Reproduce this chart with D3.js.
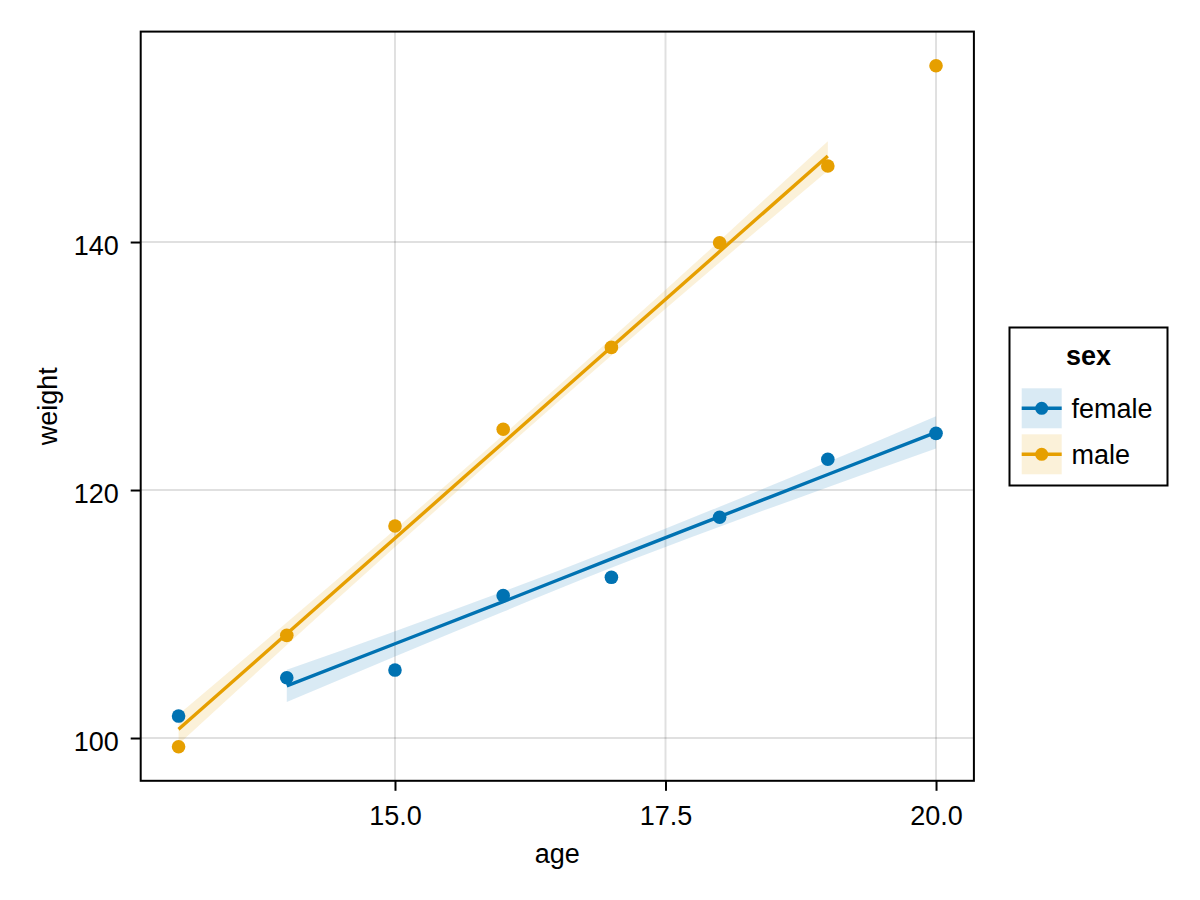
<!DOCTYPE html>
<html>
<head>
<meta charset="utf-8">
<script src="https://cdn.jsdelivr.net/npm/d3@7"></script>
<style>
  html, body { margin: 0; padding: 0; background: #fff; }
  svg { display: block; font-family: "Liberation Sans", Arial, sans-serif; }
</style>
</head>
<body>
<svg id="chart" width="1200" height="900"></svg>
<script>
// ---- data ----
const ages = [13, 14, 15, 16, 17, 18, 19, 20];
const femaleWeight = [101.77, 104.86, 105.48, 111.48, 112.96, 117.8, 122.48, 124.57];
const maleWeight = [99.3, 108.28, 117.1, 124.9, 131.5, 139.94, 146.13, 154.22];

const femaleFitAge = [14, 15, 16, 17, 18, 19, 20];
const femaleFit = [104.2, 107.6, 111.0, 114.45, 117.85, 121.25, 124.65];
const femaleLower = [102.9, 106.58, 110.19, 113.73, 117.04, 120.23, 123.35];
const femaleUpper = [105.5, 108.62, 111.81, 115.17, 118.66, 122.27, 125.95];

const maleFitAge = [13, 14, 15, 16, 17, 18, 19];
const maleFit = [100.7, 108.41, 116.11, 123.82, 131.53, 139.23, 146.94];
const maleLower = [99.5, 107.5, 115.4, 123.2, 130.85, 138.35, 145.75];
const maleUpper = [101.9, 109.32, 116.82, 124.44, 132.21, 140.11, 148.13];

const xTicks = [15, 17.5, 20];
const yTicks = [100, 120, 140];
const xDomain = [12.65, 20.35];
const yDomain = [96.55, 156.97];
const groups = ["female", "male"];
const colors = ["#0072B2", "#E69F00"];
const xLabel = "age", yLabel = "weight", legendTitle = "sex";

// ---- layout ----
const L = 140.7, R = 973.9, T = 31.6, B = 780.8;
const FS = 27;
const svg = d3.select("#chart");
const x = d3.scaleLinear().domain(xDomain).range([L, R]);
const y = d3.scaleLinear().domain(yDomain).range([B, T]);

// grid
const grid = svg.append("g");
grid.selectAll("line.gx").data(xTicks).join("line")
  .attr("x1", d => x(d)).attr("x2", d => x(d)).attr("y1", T).attr("y2", B)
  .attr("stroke", "#000").attr("stroke-opacity", 0.12).attr("stroke-width", 2);
grid.selectAll("line.gy").data(yTicks).join("line")
  .attr("y1", d => y(d)).attr("y2", d => y(d)).attr("x1", L).attr("x2", R)
  .attr("stroke", "#000").attr("stroke-opacity", 0.12).attr("stroke-width", 2);

const series = [
  { name: "female", color: colors[0], w: femaleWeight, fa: femaleFitAge, f: femaleFit, lo: femaleLower, hi: femaleUpper },
  { name: "male", color: colors[1], w: maleWeight, fa: maleFitAge, f: maleFit, lo: maleLower, hi: maleUpper }
];

const area = d3.area().x(d => x(d.a)).y0(d => y(d.lo)).y1(d => y(d.hi)).curve(d3.curveMonotoneX);
const line = d3.line().x(d => x(d.a)).y(d => y(d.f)).curve(d3.curveMonotoneX);

series.forEach(s => {
  const fd = s.fa.map((a, i) => ({ a, f: s.f[i], lo: s.lo[i], hi: s.hi[i] }));
  svg.append("path").datum(fd).attr("d", area).attr("fill", s.color).attr("fill-opacity", 0.15);
});
series.forEach(s => {
  const fd = s.fa.map((a, i) => ({ a, f: s.f[i] }));
  svg.append("path").datum(fd).attr("d", line).attr("fill", "none")
    .attr("stroke", s.color).attr("stroke-width", 3.4);
});
series.forEach(s => {
  svg.append("g").selectAll("circle").data(ages.map((a, i) => ({ a, w: s.w[i] }))).join("circle")
    .attr("cx", d => x(d.a)).attr("cy", d => y(d.w)).attr("r", 6.8).attr("fill", s.color);
});

// frame
svg.append("rect").attr("x", L).attr("y", T).attr("width", R - L).attr("height", B - T)
  .attr("fill", "none").attr("stroke", "#000").attr("stroke-width", 2);

// axes
const xAxis = svg.append("g").attr("transform", `translate(0,${B})`)
  .call(d3.axisBottom(x).tickValues(xTicks).tickFormat(d3.format(".1f")).tickSize(10).tickSizeOuter(0));
xAxis.select(".domain").remove();
xAxis.selectAll(".tick line").attr("stroke", "#000").attr("stroke-width", 2);
xAxis.selectAll(".tick text").attr("y", 44).attr("dy", 0).attr("font-size", FS)
  .attr("font-family", "Liberation Sans, Arial, sans-serif").attr("fill", "#000");

const yAxis = svg.append("g").attr("transform", `translate(${L},0)`)
  .call(d3.axisLeft(y).tickValues(yTicks).tickFormat(d3.format("d")).tickSize(10).tickSizeOuter(0));
yAxis.select(".domain").remove();
yAxis.selectAll(".tick line").attr("stroke", "#000").attr("stroke-width", 2);
yAxis.selectAll(".tick text").attr("x", -22).attr("dy", "0.45em").attr("font-size", FS)
  .attr("font-family", "Liberation Sans, Arial, sans-serif").attr("fill", "#000");

// axis labels
svg.append("text").attr("x", (L + R) / 2).attr("y", 863).attr("text-anchor", "middle")
  .attr("font-size", FS).text(xLabel);
svg.append("text").attr("transform", `translate(57,${(T + B) / 2}) rotate(-90)`)
  .attr("text-anchor", "middle").attr("font-size", FS).text(yLabel);

// legend
const lg = svg.append("g");
lg.append("rect").attr("x", 1009.5).attr("y", 327.5).attr("width", 158).attr("height", 158)
  .attr("fill", "#fff").attr("stroke", "#000").attr("stroke-width", 2);
lg.append("text").attr("x", 1088.5).attr("y", 365).attr("text-anchor", "middle")
  .attr("font-size", FS).attr("font-weight", "bold").text(legendTitle);
groups.forEach((g, i) => {
  const cy = 408.3 + i * 46;
  lg.append("rect").attr("x", 1021.7).attr("y", cy - 20).attr("width", 40).attr("height", 40)
    .attr("fill", colors[i]).attr("fill-opacity", 0.15);
  lg.append("line").attr("x1", 1021.7).attr("x2", 1061.7).attr("y1", cy).attr("y2", cy)
    .attr("stroke", colors[i]).attr("stroke-width", 3.4);
  lg.append("circle").attr("cx", 1041.7).attr("cy", cy).attr("r", 6.5).attr("fill", colors[i]);
  lg.append("text").attr("x", 1071.5).attr("y", cy + 10).attr("font-size", FS).text(g);
});
</script>
</body>
</html>
